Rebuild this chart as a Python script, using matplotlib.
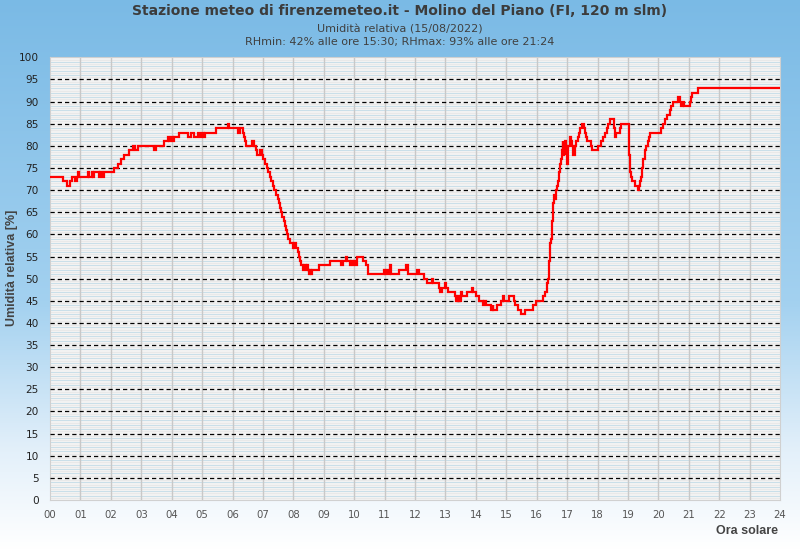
import numpy as np
import matplotlib
matplotlib.use("Agg")
import matplotlib.pyplot as plt
from matplotlib.colors import LinearSegmentedColormap

# ---- data (hour of change, humidity %) drawn as steps ----
hours = [0.00, 0.42, 0.55, 0.66, 0.72, 0.81, 0.88, 0.92, 0.96, 1.25, 1.29, 1.38, 1.42, 1.45,
         1.62, 1.66, 1.70, 1.79, 2.11, 2.22, 2.33, 2.44, 2.61, 2.74, 2.81, 2.88, 3.43, 3.48,
         3.76, 3.87, 3.92, 3.98, 4.03, 4.08, 4.23, 4.53, 4.64, 4.74, 4.86, 4.94, 5.00, 5.05,
         5.10, 5.46, 5.85, 5.89, 6.17, 6.25, 6.33, 6.38, 6.42, 6.45, 6.64, 6.72, 6.76, 6.80,
         6.92, 6.96, 7.00, 7.06, 7.12, 7.18, 7.24, 7.28, 7.33, 7.37, 7.42, 7.48, 7.52, 7.56,
         7.60, 7.64, 7.68, 7.72, 7.76, 7.80, 7.84, 7.88, 7.98, 8.02, 8.10, 8.15, 8.19, 8.22,
         8.25, 8.33, 8.36, 8.41, 8.44, 8.47, 8.50, 8.55, 8.58, 8.62, 8.84, 9.22, 9.58, 9.63,
         9.74, 9.78, 9.85, 9.90, 9.95, 10.00, 10.05, 10.10, 10.30, 10.40, 10.47, 10.98, 11.02,
         11.06, 11.10, 11.18, 11.22, 11.48, 11.72, 11.78, 12.08, 12.12, 12.15, 12.28, 12.38,
         12.55, 12.60, 12.78, 12.83, 12.88, 12.98, 13.02, 13.10, 13.30, 13.35, 13.40, 13.45,
         13.50, 13.53, 13.70, 13.88, 13.92, 14.02, 14.10, 14.25, 14.28, 14.35, 14.50, 14.55,
         14.58, 14.70, 14.82, 14.88, 14.92, 15.10, 15.27, 15.30, 15.38, 15.50, 15.60, 15.87,
         15.98, 16.20, 16.28, 16.33, 16.35, 16.37, 16.39, 16.41, 16.43, 16.45, 16.47, 16.49,
         16.51, 16.53, 16.55, 16.58, 16.61, 16.63, 16.68, 16.71, 16.74, 16.76, 16.79, 16.84,
         16.86, 16.88, 16.90, 16.92, 16.94, 16.96, 16.98, 17.01, 17.04, 17.08, 17.12, 17.15,
         17.20, 17.25, 17.30, 17.36, 17.40, 17.44, 17.48, 17.57, 17.60, 17.62, 17.67, 17.77,
         17.83, 18.01, 18.12, 18.19, 18.25, 18.30, 18.35, 18.40, 18.53, 18.55, 18.57, 18.60,
         18.73, 18.77, 19.02, 19.04, 19.06, 19.08, 19.10, 19.14, 19.23, 19.32, 19.35, 19.40,
         19.43, 19.46, 19.51, 19.55, 19.61, 19.66, 19.70, 19.74, 20.09, 20.15, 20.22, 20.30,
         20.37, 20.43, 20.48, 20.64, 20.70, 20.76, 20.80, 20.84, 21.03, 21.06, 21.12, 21.32,
         24.00]
humidity = [73, 72, 71, 72, 73, 72, 73, 74, 73, 74, 73, 74, 73, 74,
            73, 74, 73, 74, 75, 76, 77, 78, 79, 80, 79, 80, 79, 80,
            81, 82, 81, 82, 81, 82, 83, 82, 83, 82, 83, 82, 83, 82,
            83, 84, 85, 84, 83, 84, 83, 82, 81, 80, 81, 80, 79, 78,
            79, 78, 77, 76, 75, 74, 73, 72, 71, 70, 69, 68, 67, 66,
            65, 64, 63, 62, 61, 60, 59, 58, 57, 58, 57, 56, 55, 54,
            53, 52, 53, 52, 53, 52, 51, 52, 51, 52, 53, 54, 53, 54,
            55, 54, 53, 54, 53, 54, 53, 55, 54, 53, 51, 52, 51,
            52, 51, 53, 51, 52, 53, 51, 52, 51, 51, 50, 49,
            50, 49, 48, 47, 48, 49, 48, 47, 46, 45, 46, 45,
            47, 46, 47, 48, 47, 46, 45, 44, 45, 44, 43, 44,
            43, 44, 45, 46, 45, 46, 45, 44, 43, 42, 43, 44,
            45, 46, 47, 48, 49, 50, 52, 54, 56, 58, 59, 61,
            63, 65, 67, 69, 68, 70, 71, 72, 74, 76, 77, 79,
            81, 78, 80, 79, 81, 78, 80, 76, 80, 82, 81, 80,
            78, 80, 81, 82, 83, 84, 85, 84, 83, 82, 81, 80,
            79, 80, 81, 82, 83, 84, 85, 86, 85, 84, 82, 83,
            84, 85, 81, 78, 76, 74, 73, 72, 71, 70, 71, 72,
            73, 75, 77, 79, 80, 81, 82, 83, 84, 85, 86, 87,
            88, 89, 90, 91, 90, 89, 90, 89, 90, 91, 92, 93,
            93]

x_ticks = list(range(0, 25))
x_labels = [f"{h:02d}" for h in x_ticks]
y_ticks = list(range(0, 101, 5))

title = "Stazione meteo di firenzemeteo.it - Molino del Piano (FI, 120 m slm)"
subtitle1 = "Umidità relativa (15/08/2022)"
subtitle2 = "RHmin: 42% alle ore 15:30; RHmax: 93% alle ore 21:24"

# ---- figure ----
fig = plt.figure(figsize=(8, 5.5), dpi=100)

# background vertical gradient
bg = fig.add_axes([0, 0, 1, 1], zorder=-10)
stops = [(0.0, (1.0, 1.0, 1.0)),
         (0.18, (0.89, 0.94, 0.98)),
         (0.45, (0.64, 0.82, 0.94)),
         (1.0, (0.48, 0.73, 0.90))]
cmap = LinearSegmentedColormap.from_list("bg", stops)
grad = np.linspace(0, 1, 256).reshape(-1, 1)
bg.imshow(grad, aspect="auto", cmap=cmap, origin="lower", extent=[0, 1, 0, 1])
bg.set_axis_off()

ax = fig.add_axes([50 / 800, 50 / 550, 730 / 800, (500 - 57.3) / 550])
ax.set_facecolor("#f2f2f2")
ax.set_xlim(0, 24)
ax.set_ylim(0, 100)

# minor grid lines
for v in range(1, 100):
    if v % 5 != 0:
        ax.axhline(v, color="#c9dfe9", lw=0.7, zorder=1)
for v in np.arange(0.5, 100, 1.0):
    ax.axhline(v, color="#e6e6e6", lw=0.5, zorder=1)
for h in x_ticks[1:-1]:
    ax.axvline(h, color="#c8c8c8", lw=1.0, zorder=2)
for v in y_ticks[1:-1]:
    ax.axhline(v, color="black", lw=0.9, dashes=(3.4, 2.4), zorder=3)

ax.plot(hours, humidity, drawstyle="steps-post", color="#ff0000", lw=1.6, zorder=5,
        solid_joinstyle="miter")

ax.set_xticks(x_ticks)
ax.set_xticklabels(x_labels, fontsize=7.3, color="#555555")
ax.set_yticks(y_ticks)
ax.set_yticklabels([str(v) for v in y_ticks], fontsize=7.6, color="#222222")
ax.tick_params(axis="both", length=0)
ax.tick_params(axis="x", pad=7)
ax.tick_params(axis="y", pad=8)
for s in ax.spines.values():
    s.set_color("#d0d0d0")
    s.set_linewidth(0.8)

fig.text(0.5, 1 - 11 / 550, title, ha="center", va="center", fontsize=10,
         fontweight="bold", family="Liberation Sans Narrow", color="#3c3c3c")
fig.text(0.5, 1 - 30 / 550, subtitle1, ha="center", va="center", fontsize=8,
         color="#404040", family="DejaVu Sans")
fig.text(0.5, 1 - 42 / 550, subtitle2, ha="center", va="center", fontsize=8,
         color="#404040", family="DejaVu Sans")
fig.text(778 / 800, 1 - 531 / 550, "Ora solare", ha="right", va="center", fontsize=9,
         fontweight="bold", family="Liberation Sans", color="#444444")
fig.text(12 / 800, 1 - 268 / 550, "Umidità relativa [%]", ha="center", va="center",
         rotation=90, fontsize=9, fontweight="bold", family="Liberation Sans",
         color="#444444")

fig.savefig("out.png", dpi=100)
